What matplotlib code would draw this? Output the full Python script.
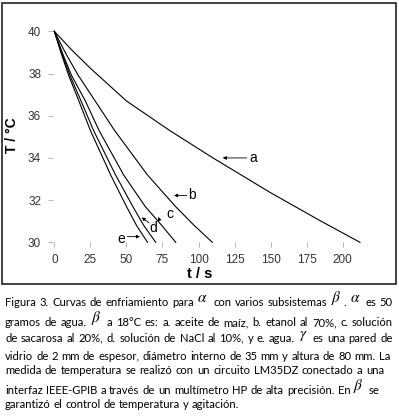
import re
import matplotlib
matplotlib.use('Agg')
import matplotlib.pyplot as plt
from matplotlib.patches import Rectangle

# cooling curves (t in s, T in degC)
t_a = [0, 12, 25, 50, 80, 110, 150, 185, 212]
T_a = [40, 39.12, 38.25, 36.7, 35.3, 34.0, 32.35, 31.0, 30]
t_b = [0, 8.3, 16.7, 28.3, 41.8, 64.5, 84, 97, 109.6]
t_c = [0, 6, 12, 21.5, 31, 48, 63, 74.5, 84.2]
t_d = [0, 5.4, 10.9, 18.5, 27.2, 42.4, 54.4, 62, 70.3]
t_e = [0, 5, 10, 17, 25, 39, 50, 57, 64.6]
T_fast = [40, 38.9, 37.9, 36.7, 35.3, 33.2, 31.7, 30.8, 30]

x_ticks = [0, 25, 50, 75, 100, 125, 150, 175, 200]
y_ticks = [30, 32, 34, 36, 38, 40]

caption_lines = [
    'Figura 3. Curvas de enfriamiento para α con varios subsistemas β. α es 50',
    'gramos de agua. β a 18°C es: a. aceite de maíz, b. etanol al 70%, c. solución',
    'de sacarosa al 20%, d. solución de NaCl al 10%, y e. agua. γ es una pared de',
    'vidrio de 2 mm de espesor, diámetro interno de 35 mm y altura de 80 mm. La',
    'medida de temperatura se realizó con un circuito LM35DZ conectado a una',
    'interfaz IEEE-GPIB a través de un multímetro HP de alta precisión. En β se',
    'garantizó el control de temperatura y agitación.',
]

W, H = 399, 416
plt.rcParams['mathtext.fontset'] = 'stix'
fig = plt.figure(figsize=(W / 100, H / 100), dpi=100)

# frame round the plot part
fig.patches.append(Rectangle((2 / W, 1 - 284 / H), 394 / W, 281 / H,
                             transform=fig.transFigure, fill=False,
                             edgecolor='#222222', linewidth=1.2))

ax = fig.add_axes([0.1326, 0.4175, 0.8058, 0.5224])
for t, T in [(t_a, T_a), (t_b, T_fast), (t_c, T_fast), (t_d, T_fast), (t_e, T_fast)]:
    ax.plot(t, T, color='black', linewidth=0.8, clip_on=False)

ax.set_xlim(-1, 222)
ax.set_ylim(30, 40.3)
ax.set_xticks(x_ticks)
ax.set_yticks(y_ticks)
for s in ax.spines.values():
    s.set_visible(False)
ax.tick_params(length=3.5, width=0.6, color='#aaaaaa', labelcolor='#333333',
               labelsize=8.5, pad=5)
for lab in ax.get_xticklabels() + ax.get_yticklabels():
    lab.set_family('Liberation Sans')

ax.set_xlabel('t / s', fontsize=10.5, fontweight='bold', family='Liberation Sans')
ax.set_ylabel('T / °C', fontsize=10, fontweight='bold', family='Liberation Sans')
ax.xaxis.set_label_coords(0.4576, -0.113)
ax.yaxis.set_label_coords(-0.105, 0.494)

# curve labels with arrows
arr = dict(arrowstyle='-|>', lw=0.6, color='black', mutation_scale=5,
           shrinkA=0, shrinkB=0)
lab_kw = dict(fontsize=10, family='Liberation Sans', va='center', ha='left')
ax.annotate('', xy=(116.8, 34.0), xytext=(133.4, 34.0), arrowprops=arr)
ax.text(135.5, 34.0, 'a', **lab_kw)
ax.annotate('', xy=(83.0, 32.22), xytext=(91.8, 32.22), arrowprops=arr)
ax.text(93.0, 32.25, 'b', **lab_kw)
ax.annotate('', xy=(72.0, 31.2), xytext=(72.6, 31.1), arrowprops=arr)
ax.text(77.5, 31.33, 'c', **lab_kw)
ax.annotate('', xy=(60.6, 31.18), xytext=(65.7, 30.92), arrowprops=arr)
ax.text(66.0, 30.67, 'd', **lab_kw)
ax.annotate('', xy=(59.4, 30.27), xytext=(50.5, 30.27), arrowprops=arr)
ax.text(43.5, 30.17, 'e', **lab_kw)

# caption: words placed one by one, greek letters larger and raised,
# lines spread out to the right margin like the justified original
greek_tex = {'α': r'$\alpha$', 'β': r'$\beta$', 'γ': r'$\gamma$'}
baselines = [306, 326, 341.7, 360, 374.3, 394.3, 408.3]
line_ends = [393, 393, 393, 390, 384, 380, None]
r = fig.canvas.get_renderer()
probe = fig.text(0, 0, 'a a', fontsize=8.1, family='Lato')
w_sp = probe.get_window_extent(r).width
probe.set_text('aa')
w_sp -= probe.get_window_extent(r).width
probe.remove()

for line, yb, x_end in zip(caption_lines, baselines, line_ends):
    words = []
    for word in line.split(' '):
        pieces = []
        for p in re.split('([αβγ])', word):
            if not p:
                continue
            greek = p in greek_tex
            txt = fig.text(0, 1 - (yb - (4 if greek else 0)) / H,
                           greek_tex.get(p, p), fontsize=11 if greek else 8.1,
                           family='Lato', va='baseline', ha='left', color='black')
            w = txt.get_window_extent(r).width + (2 if greek else 0)
            pieces.append((txt, w))
        words.append(pieces)
    natural = sum(w for pc in words for _, w in pc) + w_sp * (len(words) - 1)
    gap = w_sp
    if x_end is not None:
        gap += (x_end - 5 - natural) / (len(words) - 1)
    x = 5
    for pc in words:
        for txt, w in pc:
            txt.set_x(x / W)
            x += w
        x += gap

fig.savefig('out.png', dpi=100)
